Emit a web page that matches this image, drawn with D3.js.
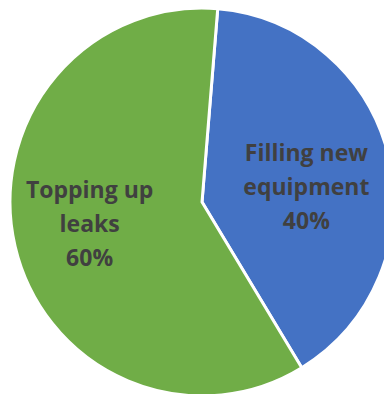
<!DOCTYPE html>
<html>
<head>
<meta charset="utf-8">
<script src="https://cdn.jsdelivr.net/npm/d3@7"></script>
<style>
    html, body { margin: 0; padding: 0; background: #ffffff; }
    svg { display: block; }
    .pie_label { font-family: "Open Sans", sans-serif; font-weight: bold; fill: #404040; }
</style>
</head>
<body>
<svg id="pie_chart" width="384" height="394"></svg>
<script>
// chart data
const categories  = ["Filling new equipment", "Topping up leaks"];
const label_lines = [["Filling new", "equipment", "40%"], ["Topping up", "leaks", "60%"]];
const values      = [40, 60];
const colors      = ["#4472C4", "#70AD47"];

const svg    = d3.select("#pie_chart");
const cx     = 202;
const cy     = 202;
const radius = 192;

const pie = d3.pie()
    .sort(null)
    .startAngle(4.7 * Math.PI / 180)
    .endAngle(4.7 * Math.PI / 180 + 2 * Math.PI)
    .value(d => d);

const arc = d3.arc()
    .innerRadius(0)
    .outerRadius(radius);

const labelArc = d3.arc()
    .innerRadius(radius * 0.58)
    .outerRadius(radius * 0.58);

const chart = svg.append("g")
    .attr("transform", `translate(${cx},${cy}) scale(1,1.01)`);

const slices = pie(values);

chart.selectAll(".slice").data(slices)
    .enter().append("path")
    .attr("class", "slice")
    .attr("d", arc)
    .attr("fill", (d, i) => colors[i])
    .attr("stroke", "#ffffff")
    .attr("stroke-width", 3)
    .attr("stroke-linejoin", "round");

// label nudges, like Excel's best-fit placement
const nudge = [[-4, 11], [-4, -4]];
const lineHeight = 33.5;

const labels = chart.selectAll(".pie_label").data(slices)
    .enter().append("text")
    .attr("class", "pie_label")
    .attr("text-anchor", "middle")
    .attr("font-size", 23)
    .attr("transform", (d, i) => {
        const c = labelArc.centroid(d);
        return `translate(${c[0] + nudge[i][0]},${c[1] + nudge[i][1]})`;
    });

labels.selectAll("tspan").data((d, i) => label_lines[i])
    .enter().append("tspan")
    .attr("x", 0)
    .attr("y", (d, j) => (j - 1) * lineHeight + 8)
    .text(d => d);
</script>
</body>
</html>
